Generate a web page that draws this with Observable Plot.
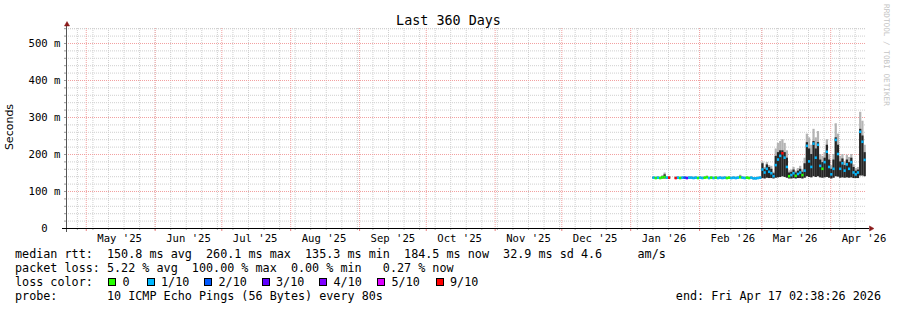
<!DOCTYPE html>
<html><head><meta charset="utf-8">
<script src="https://cdn.jsdelivr.net/npm/d3@7"></script>
<script src="https://cdn.jsdelivr.net/npm/@observablehq/plot@0.6"></script>
<style>
body{margin:0;background:#fff;}
#wrap{position:relative;width:897px;height:310px;overflow:hidden;font-family:"DejaVu Sans Mono",monospace;color:#000;background:#fff;}
#wrap svg{position:absolute;left:0;top:0;}
.t{position:absolute;white-space:pre;font-size:11.75px;line-height:14px;}
.box{position:absolute;width:8px;height:8px;border:1px solid #000;box-sizing:border-box;}
</style></head><body><div id="wrap"></div>
<script>
// ---- data (one entry per day, starting 2026-01-11) ----
const startDate = "2026-01-11";
const median = [
 136,135,136,135,137,138,136,136,null,null,135,136,135,136,136,135,136,136,135,136,135,
 136,135,136,137,135,136,135,136,135,136,135,136,135,136,135,136,135,136,137,136,135,136,135,136,134,134,135,136,
 158,150,160,152,148,140,170,185,195,202,190,165,140,143,148,141,146,150,143,155,222,180,165,228,190,225,168,160,178,206,165,
 145,160,238,200,160,175,155,172,160,178,150,145,150,260,233,184
];
const lossIdx = [
 1,0,1,0,0,0,1,6,null,null,6,1,0,1,2,3,1,1,1,1,0,
 1,1,0,0,1,0,1,0,1,1,1,1,0,0,1,1,1,1,0,1,1,0,0,1,1,1,1,1,
 1,1,1,1,1,1,1,1,1,6,1,1,0,1,1,0,1,1,0,1,1,1,1,1,1,1,1,0,1,1,1,
 1,1,1,1,1,1,1,1,1,1,1,1,1,1,1,1
];
const pingLow = [
 134,133,134,133,134,134,134,134,null,null,133,134,133,134,134,133,134,134,133,134,133,
 134,133,134,135,133,134,133,134,133,134,133,134,133,134,133,134,133,134,135,134,133,134,133,134,132,132,133,134,
 135,134,136,135,135,134,136,137,138,140,138,136,134,134,135,134,135,135,134,136,140,138,137,140,138,140,137,136,137,138,136,
 134,136,140,139,136,137,136,137,136,137,135,135,135,142,142,140
];
const pingMid = [
 138,137,138,137,140,145,138,138,null,null,137,138,137,138,138,137,138,138,137,138,137,
 138,137,138,139,137,138,137,138,137,138,137,138,137,138,137,138,137,138,141,138,137,138,137,138,136,136,137,138,
 175,160,172,165,160,148,195,205,210,210,205,190,150,152,158,150,155,160,152,175,232,215,200,235,215,232,185,178,190,225,185,
 160,185,245,225,180,188,170,185,178,190,165,155,158,268,250,205
];
const pingHigh = [
 140,139,140,139,143,150,140,140,null,null,139,140,139,140,140,139,140,140,139,140,139,
 140,139,140,142,139,140,139,140,139,140,139,140,139,140,139,140,139,140,144,140,139,140,139,140,138,138,139,140,
 180,165,178,170,168,152,215,230,235,240,230,210,156,158,165,155,162,168,158,190,255,245,225,268,245,262,200,195,205,240,200,
 170,200,283,255,195,200,180,198,192,200,172,162,165,314,290,225
];
const lossLabels = ["0","1/10","2/10","3/10","4/10","5/10","9/10"];
const lossColors = ["#26ff00","#00b8ff","#0059ff","#5e00ff","#7e00ff","#dd00ff","#ff0000"];
const monthStarts = ["2025-05-01","2025-06-01","2025-07-01","2025-08-01","2025-09-01","2025-10-01","2025-11-01","2025-12-01","2026-01-01","2026-02-01","2026-03-01","2026-04-01"];
const xLabels = ["May '25","Jun '25","Jul '25","Aug '25","Sep '25","Oct '25","Nov '25","Dec '25","Jan '26","Feb '26","Mar '26","Apr '26"];
const yMajor = [0,100,200,300,400,500];
const yLabels = ["0\u00a0\u00a0","100 m","200 m","300 m","400 m","500 m"];
const timeStart = new Date("2025-04-22T02:38:26Z");
const timeEnd = new Date("2026-04-17T02:38:26Z");

// ---- build rows ----
const d0 = new Date(startDate + "T00:00:00Z");
const rows = median.map((m, i) => ({
  t1: d3.utcDay.offset(d0, i), t2: d3.utcDay.offset(d0, i + 1),
  med: m, loss: lossIdx[i], lo: pingLow[i], mid: pingMid[i], hi: pingHigh[i]
})).filter(r => r.med != null);

const months = monthStarts.map(s => new Date(s + "T00:00:00Z"));
const midMonths = months.map(d => new Date(+d + 15 * 86400000));
const labelMap = new Map(midMonths.map((d, i) => [+d, xLabels[i]]));
const yLabelMap = new Map(yMajor.map((d, i) => [d, yLabels[i]]));
const weeks = d3.utcSunday.range(timeStart, timeEnd);
const yMinor = d3.range(20, 541, 20).filter(v => v % 100 !== 0);

const minorC = "#cfcfcf", majorC = "#f2a0a0";

const svg = Plot.plot({
  width: 897, height: 245,
  marginLeft: 66, marginRight: 31, marginTop: 28, marginBottom: 17,
  style: {fontFamily: "DejaVu Sans Mono", fontSize: "10.6px", background: "transparent", color: "#000"},
  x: {type: "utc", domain: [timeStart, timeEnd]},
  y: {domain: [0, 540.5]},
  color: {type: "identity"},
  marks: [
    Plot.ruleY(yMinor.concat([540]), {stroke: minorC, strokeDasharray: "1,1"}),
    Plot.ruleX(weeks, {stroke: minorC, strokeDasharray: "1,1"}),
    Plot.ruleY(yMajor.filter(v => v > 0), {stroke: majorC, strokeDasharray: "1,1"}),
    Plot.ruleX(months, {stroke: majorC, strokeDasharray: "1,1"}),
    Plot.rect(rows, {x1: "t1", x2: "t2", y1: "lo", y2: "hi", fill: "#b4b4b4"}),
    Plot.rect(rows, {x1: "t1", x2: "t2", y1: "lo", y2: "mid", fill: "#262626"}),
    Plot.rect(rows, {x1: "t1", x2: "t2", y1: d => d.med - 3.5, y2: d => d.med + 3.5, fill: d => lossColors[d.loss]}),
    Plot.axisY(yMinor.concat(yMajor), {tickSize: 2, stroke: "#999", text: null}),
    Plot.axisY(yMajor, {tickSize: 0, tickPadding: 6, tickFormat: d => yLabelMap.get(d)}),
    Plot.axisX(weeks, {tickSize: 2, stroke: "#aaa", text: null}),
    Plot.axisX(months, {tickSize: 3, stroke: "#e88080", text: null}),
    Plot.axisX(midMonths, {tickSize: 0, tickPadding: 6, tickFormat: d => labelMap.get(+d)}),
    Plot.ruleX([timeStart], {stroke: "#555", insetTop: -5, insetBottom: -4}),
    Plot.ruleY([0], {stroke: "#000", insetLeft: -4, insetRight: -3}),
    Plot.dot([0], {frameAnchor: "top-left", symbol: "triangle", r: 1.9, fill: "#8b1a1a", stroke: "#8b1a1a", strokeWidth: 0.5, dx: 0.5, dy: -4}),
    Plot.dot([0], {frameAnchor: "bottom-right", symbol: "triangle", r: 1.9, rotate: 90, fill: "#8b1a1a", stroke: "#8b1a1a", strokeWidth: 0.5, dx: 4.5, dy: 0})
  ]
});

const wrap = document.getElementById("wrap");
wrap.appendChild(svg);

function addText(txt, left, top, style) {
  const d = document.createElement("div");
  d.className = "t";
  d.textContent = txt;
  d.style.left = left + "px";
  d.style.top = top + "px";
  if (style) Object.assign(d.style, style);
  wrap.appendChild(d);
  return d;
}
// title
addText("Last 360 Days", 0, 12.5, {width: "897px", textAlign: "center", fontSize: "13.4px", lineHeight: "16px"});
// y label
addText("Seconds", 10, 127, {fontFamily: "'DejaVu Sans'", fontSize: "11px", transform: "translate(-50%,-50%) rotate(-90deg)"});
// watermark
addText("RRDTOOL / TOBI OETIKER", 882, 4, {writingMode: "vertical-rl", fontSize: "7.7px", lineHeight: "9px", color: "#c4c4c4"});
// legend
addText("median rtt:  150.8 ms avg  260.1 ms max  135.3 ms min  184.5 ms now  32.9 ms sd 4.6     am/s", 15, 247);
addText("packet loss: 5.22 % avg  100.00 % max  0.00 % min   0.27 % now", 15, 261);
addText("loss color:", 15, 275);
const boxX = [108, 146.5, 204, 261.5, 319, 377, 435.5];
lossLabels.forEach((lab, i) => {
  const b = document.createElement("div");
  b.className = "box";
  b.style.left = boxX[i] + "px";
  b.style.top = "278px";
  b.style.background = lossColors[i];
  wrap.appendChild(b);
  addText(lab, boxX[i] + 14.5, 275);
});
addText("probe:       10 ICMP Echo Pings (56 Bytes) every 80s", 15, 289);
addText("end: Fri Apr 17 02:38:26 2026", 0, 289, {left: "auto", right: "16px"});
</script>
</body></html>
